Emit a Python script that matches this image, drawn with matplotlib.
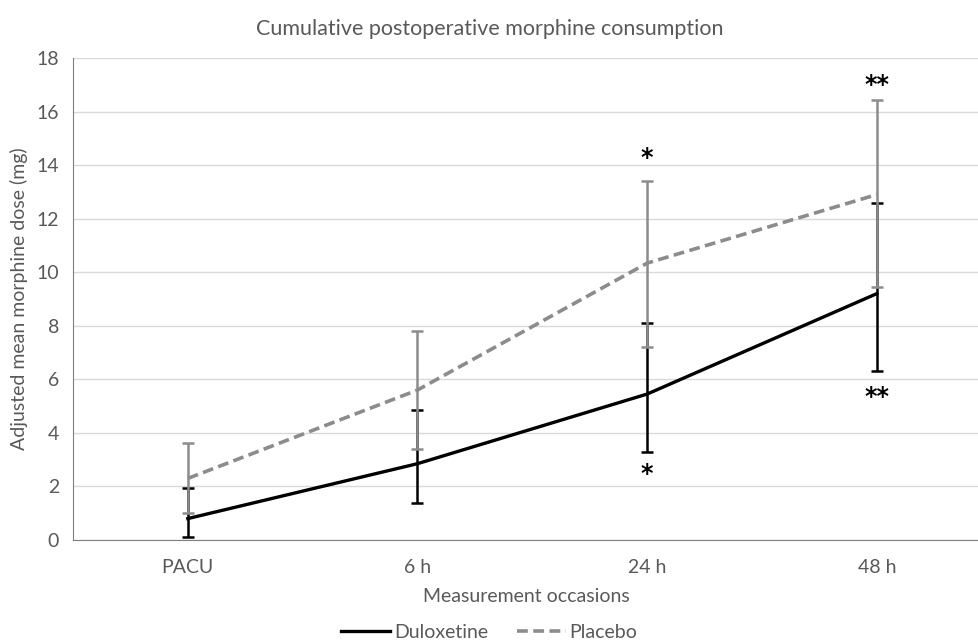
import numpy as np
import matplotlib.pyplot as plt

# data
occasions = ["PACU", "6 h", "24 h", "48 h"]
dulox_mean = [0.8, 2.85, 5.45, 9.2]
dulox_low = [0.12, 1.38, 3.3, 6.31]
dulox_high = [1.94, 4.85, 8.12, 12.58]
placebo_mean = [2.3, 5.6, 10.34, 12.9]
placebo_low = [1.0, 3.4, 7.22, 9.45]
placebo_high = [3.62, 7.8, 13.42, 16.43]

# significance markers (x index, y, text)
star_x = [2, 2, 3, 3]
star_y = [14.25, 2.45, 17.0, 5.35]
star_txt = ["*", "*", "**", "**"]

plt.rcParams['font.family'] = ['Lato', 'DejaVu Sans']
txt_color = "#595959"

fig = plt.figure(figsize=(9.79, 6.44), dpi=100)
ax = fig.add_axes([73/979, 104/644, 1 - 73/979, 482/644])

x = np.arange(len(occasions))
dm = np.array(dulox_mean)
pm = np.array(placebo_mean)
d_err = [dm - np.array(dulox_low), np.array(dulox_high) - dm]
p_err = [pm - np.array(placebo_low), np.array(placebo_high) - pm]

ax.errorbar(x, dm, yerr=d_err, fmt="none", ecolor="black", elinewidth=1.8,
            capsize=4, capthick=1.8, zorder=2)
ax.errorbar(x, pm, yerr=p_err, fmt="none", ecolor="#8c8c8c", elinewidth=1.8,
            capsize=4, capthick=1.8, zorder=3)
ax.plot(x, dm, color="black", lw=2.4, label="Duloxetine", zorder=4)
ax.plot(x, pm, color="#8c8c8c", lw=2.6, ls=(0, (3, 1.5)), label="Placebo", zorder=4)

for sx, sy, st in zip(star_x, star_y, star_txt):
    ax.text(sx, sy, st, ha="center", va="center", fontsize=17, color="black",
            family="DejaVu Sans", fontweight="bold")

ax.set_xlim(-0.5, 3.445)
ax.set_ylim(0, 18)
ax.set_yticks(range(0, 19, 2))
ax.set_xticks(x)
ax.set_xticklabels(occasions)
ax.tick_params(colors=txt_color, labelsize=14, length=0)
ax.tick_params(axis="x", pad=14)
ax.tick_params(axis="y", pad=10)
ax.grid(axis="y", color="#d9d9d9", lw=1)
ax.set_axisbelow(True)
for s in ["top", "right"]:
    ax.spines[s].set_visible(False)
ax.spines["left"].set_color("#7f7f7f")
ax.spines["bottom"].set_color("#7f7f7f")

ax.set_xlabel("Measurement occasions", color=txt_color, fontsize=14, labelpad=8)
ax.set_ylabel("Adjusted mean morphine dose (mg)", color=txt_color, fontsize=14, labelpad=6)
fig.text(0.5, 0.955, "Cumulative postoperative morphine consumption",
         ha="center", va="center", fontsize=15.5, color=txt_color)

leg = fig.legend(loc="center", bbox_to_anchor=(0.5, 0.018), ncol=2, frameon=False,
                 fontsize=14, handlelength=2.5, handletextpad=0.2, columnspacing=1.5)
for t in leg.get_texts():
    t.set_color(txt_color)

fig.savefig("out.png", dpi=100)
